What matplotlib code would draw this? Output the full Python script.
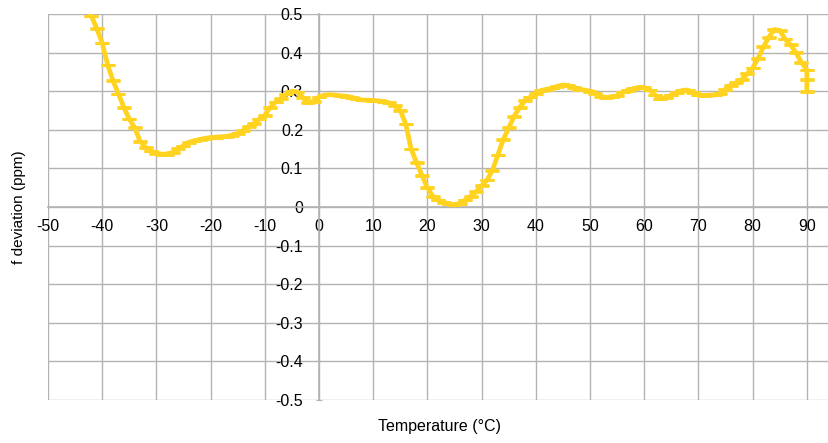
import matplotlib
matplotlib.use("Agg")
import matplotlib.pyplot as plt

plt.rcParams['font.family'] = ['Liberation Sans', 'DejaVu Sans']

# measured temperature (degC) and frequency deviation (ppm)
temperature = [-43, -42, -41, -40, -39, -38, -37, -36, -35, -34, -33, -32, -31, -30,
               -29, -28, -27, -26, -25, -24, -23, -22, -21, -20, -19, -18, -17, -16,
               -15, -14, -13, -12, -11, -10, -9, -8, -7, -6, -5, -4, -3, -2, -1,
               0, 1, 2, 3, 4, 5, 6, 7, 8, 9, 10, 11, 12, 13, 14, 15, 16, 17, 18, 19,
               20, 21, 22, 23, 24, 25, 26, 27, 28, 29, 30, 31, 32, 33, 34, 35, 36,
               37, 38, 39, 40, 41, 42, 43, 44, 45, 46, 47, 48, 49, 50, 51, 52, 53,
               54, 55, 56, 57, 58, 59, 60, 61, 62, 63, 64, 65, 66, 67, 68, 69, 70,
               71, 72, 73, 74, 75, 76, 77, 78, 79, 80, 81, 82, 83, 84, 85, 86, 87,
               88, 89, 90, 90, 90]
deviation = [0.53, 0.495, 0.462, 0.425, 0.368, 0.327, 0.293, 0.258, 0.228, 0.205, 0.17,
             0.155, 0.145, 0.139, 0.137, 0.137, 0.141, 0.152, 0.158, 0.168, 0.171,
             0.175, 0.178, 0.18, 0.181, 0.182, 0.183, 0.186, 0.19, 0.198, 0.208,
             0.216, 0.228, 0.238, 0.258, 0.272, 0.282, 0.293, 0.3, 0.298, 0.284,
             0.27, 0.274,
             0.285, 0.29, 0.291, 0.29, 0.288, 0.287, 0.284, 0.28, 0.277, 0.277,
             0.276, 0.275, 0.272, 0.27, 0.262, 0.25, 0.215, 0.15, 0.115, 0.082,
             0.05, 0.028, 0.018, 0.012, 0.008, 0.005, 0.01, 0.018, 0.028, 0.04,
             0.055, 0.07, 0.095, 0.135, 0.175, 0.205, 0.235, 0.258, 0.275, 0.285,
             0.295, 0.302, 0.305, 0.308, 0.313, 0.316, 0.315, 0.31, 0.305, 0.303,
             0.3, 0.295, 0.286, 0.284, 0.285, 0.288, 0.298, 0.302, 0.306, 0.31,
             0.31, 0.303, 0.29, 0.28, 0.283, 0.29, 0.296, 0.302, 0.303, 0.297,
             0.29, 0.289, 0.29, 0.29, 0.294, 0.305, 0.315, 0.322, 0.33, 0.345,
             0.36, 0.385, 0.415, 0.44, 0.46, 0.457, 0.435, 0.42, 0.4, 0.375,
             0.355, 0.33, 0.30]
error = 0.001

x_ticks = list(range(-50, 91, 10))
y_ticks = [-0.5, -0.4, -0.3, -0.2, -0.1, 0, 0.1, 0.2, 0.3, 0.4, 0.5]
y_tick_labels = ["-0.5", "-0.4", "-0.3", "-0.2", "-0.1", "0",
                 "0.1", "0.2", "0.3", "0.4", "0.5"]

W, H = 829, 443
fig = plt.figure(figsize=(W / 100, H / 100), dpi=100)
ax = fig.add_axes([48 / W, 43 / H, 781 / W, 386 / H])

ax.errorbar(temperature, deviation, yerr=error, color="#ffd320", lw=3.4,
            elinewidth=2, capsize=5, capthick=2, zorder=3)

ax.set_xlim(-50, -50 + 781 / 5.42)
ax.set_ylim(-0.5, 0.5)
ax.set_xticks(x_ticks)
ax.set_xticklabels([str(t) for t in x_ticks])
ax.set_yticks(y_ticks)
ax.set_yticklabels(y_tick_labels)

ax.grid(True, color="#b3b3b3", lw=1)
ax.set_axisbelow(True)
for side in ("top", "right"):
    ax.spines[side].set_visible(False)
ax.spines["left"].set_position(("data", 0))
ax.spines["bottom"].set_position(("data", 0))
for side in ("left", "bottom"):
    ax.spines[side].set_color("#b3b3b3")
    ax.spines[side].set_linewidth(1.2)
ax.tick_params(axis="both", direction="inout", length=5, color="#b3b3b3",
               labelsize=11.5, labelcolor="black")
ax.tick_params(axis="x", pad=6)
ax.tick_params(axis="y", pad=9)

fig.text(19 / W, 1 - 207 / H, "f deviation (ppm)", rotation=90,
         ha="center", va="center", fontsize=11)
fig.text(440 / W, 1 - 427 / H, "Temperature (°C)", ha="center", va="center",
         fontsize=11.5)

fig.savefig("out.png", dpi=100)
